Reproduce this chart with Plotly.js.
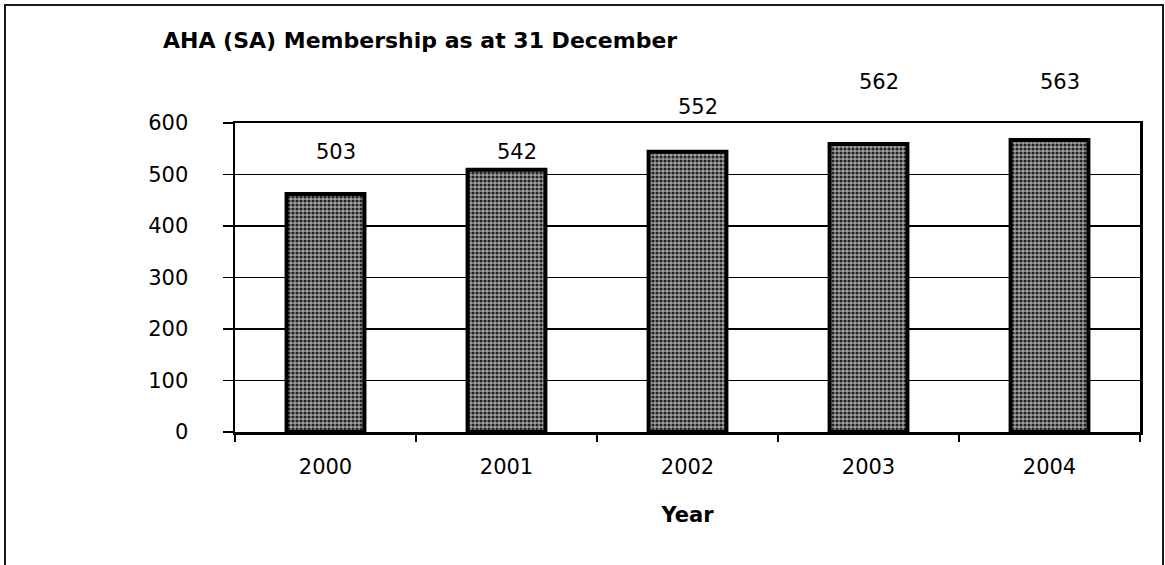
<!DOCTYPE html>
<html>
<head>
<meta charset="utf-8">
<script src="https://cdn.plot.ly/plotly-3.0.1.min.js"></script>
<style>
  html, body { margin: 0; padding: 0; background: #ffffff; }
  #wrap { position: relative; width: 1165px; height: 565px; overflow: hidden; }
  #chart { width: 1165px; height: 565px; }
  #frame { position: absolute; left: 4px; top: 4px; width: 1156px; height: 620px;
           border: 2px solid #1a1a1a; pointer-events: none; }
</style>
</head>
<body>
<div id="wrap">
  <div id="chart"></div>
  <div id="frame"></div>
</div>
<script>
// ---- data ----
const years = ['2000', '2001', '2002', '2003', '2004'];
const barHeights = [462, 509, 544, 559, 567];          // drawn bar heights
const labelTexts = ['503', '542', '552', '562', '563'];  // printed data labels
const labelLevels = [544, 544, 631, 680, 680];           // label heights (data units)
const yTicks = [0, 100, 200, 300, 400, 500, 600];
const chartTitle = 'AHA (SA) Membership as at 31 December';
const xTitle = 'Year';

const FONT = '"DejaVu Sans", sans-serif';
const Y_RANGE = [0, 600];

const bars = {
  type: 'bar',
  x: years,
  y: barHeights,
  marker: {
    color: '#858585',
    line: { color: '#000000', width: 4 },
    pattern: { shape: '.', bgcolor: '#a0a0a0', fgcolor: '#222222', size: 4, solidity: 0.5 }
  },
  hoverinfo: 'skip',
  showlegend: false
};

// data labels drawn as annotations; some sit above the plotted range, so their
// height is expressed relative to the y axis domain (data value / axis span)
const labelAnnotations = years.map((yr, i) => ({
  x: i,
  xref: 'x',
  y: (labelLevels[i] - Y_RANGE[0]) / (Y_RANGE[1] - Y_RANGE[0]),
  yref: 'y domain',
  xanchor: 'center',
  yanchor: 'middle',
  text: labelTexts[i],
  showarrow: false,
  xshift: 10,
  font: { family: FONT, size: 21, color: '#000000' }
}));

const layout = {
  width: 1165,
  height: 565,
  margin: { l: 235, r: 25, t: 123, b: 133 },
  paper_bgcolor: '#ffffff',
  plot_bgcolor: '#ffffff',
  bargap: 0.57,
  font: { family: FONT, color: '#000000' },
  title: {
    text: '<b>' + chartTitle + '</b>',
    font: { family: FONT, size: 22, color: '#000000' },
    x: 163 / 1165, xanchor: 'left', xref: 'container',
    y: 1 - 40 / 565, yanchor: 'middle', yref: 'container'
  },
  annotations: labelAnnotations,
  xaxis: {
    type: 'category',
    categoryarray: years,
    range: [-0.5, years.length - 0.5],
    tickson: 'boundaries',
    ticks: 'outside',
    ticklen: 7,
    tickwidth: 1.5,
    tickcolor: '#000000',
    showline: true,
    linecolor: '#000000',
    linewidth: 2.5,
    mirror: true,
    showgrid: false,
    zeroline: false,
    tickangle: 0,
    tickfont: { family: FONT, size: 21, color: '#000000' },
    ticklabelstandoff: 14,
    title: {
      text: '<b>' + xTitle + '</b>',
      font: { family: FONT, size: 21, color: '#000000' },
      standoff: 30
    }
  },
  yaxis: {
    range: Y_RANGE,
    tickvals: yTicks,
    ticks: 'outside',
    ticklen: 10,
    tickwidth: 1.5,
    tickcolor: '#000000',
    showline: true,
    linecolor: '#000000',
    linewidth: 2.5,
    mirror: true,
    showgrid: true,
    gridcolor: '#000000',
    gridwidth: 1.2,
    zeroline: false,
    tickfont: { family: FONT, size: 21, color: '#000000' },
    ticklabelstandoff: 30
  }
};

Plotly.newPlot('chart', [bars], layout, { staticPlot: true, displayModeBar: false });
</script>
</body>
</html>
